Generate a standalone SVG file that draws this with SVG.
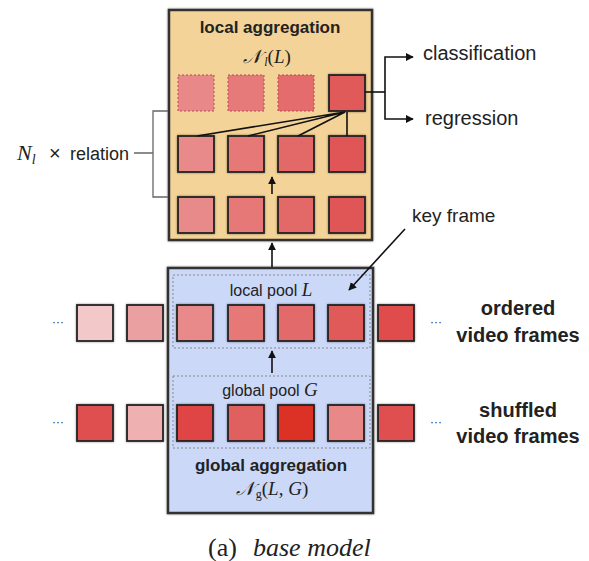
<svg xmlns="http://www.w3.org/2000/svg" width="589" height="561" viewBox="0 0 589 561">
<style>
.sq{stroke:#222;stroke-width:1.8;filter:url(#sh)}
.dsq{stroke:#b84a4a;stroke-width:1;stroke-dasharray:2 2}
.box{stroke:#333;stroke-width:2.5;filter:url(#sh)}
.pool{fill:none;stroke:#888;stroke-width:1;stroke-dasharray:2 2}
.sans{font-family:"Liberation Sans",Arial,sans-serif;fill:#222}
.bold{font-weight:bold}
.math{font-family:"Liberation Serif","DejaVu Serif",serif;font-style:italic;fill:#222}
.ln{stroke:#111;stroke-width:1.6;fill:none}
.dots{font-family:"Liberation Sans",sans-serif;font-size:12px;fill:#333}
</style>
<defs>
<filter id="sh" x="-10%" y="-10%" width="120%" height="120%"><feDropShadow dx="0" dy="0" stdDeviation="1" flood-color="#000" flood-opacity="0.45"/></filter>
<marker id="ah" viewBox="0 0 10 10" refX="9" refY="5" markerWidth="5" markerHeight="5" orient="auto-start-reverse"><path d="M0,0 L10,5 L0,10 z" fill="#111"/></marker>
</defs>
<rect width="589" height="561" fill="#fff"/>

<g id="local-aggregation">
<rect class="box" x="169" y="10" width="203" height="230" fill="#f3d398"/>
<text class="sans bold" x="270" y="33" font-size="17" text-anchor="middle">local aggregation</text>
<text class="math" x="267" y="63" font-size="19" text-anchor="middle">𝒩<tspan font-size="12" dx="3" dy="3">l</tspan><tspan dy="-3" font-style="normal">(</tspan>L<tspan font-style="normal">)</tspan></text>
<rect class="dsq" x="178" y="75" width="36" height="36" fill="#e88888"/>
<rect class="dsq" x="228" y="75" width="36" height="36" fill="#e67a7a"/>
<rect class="dsq" x="278" y="75" width="36" height="36" fill="#e46c6c"/>
<rect class="sq" x="329" y="75" width="36" height="36" fill="#e05a5a"/>
<rect class="sq" x="178" y="136" width="36" height="36" fill="#e88a8a"/>
<rect class="sq" x="228" y="136" width="36" height="36" fill="#e67878"/>
<rect class="sq" x="278" y="136" width="36" height="36" fill="#e36868"/>
<rect class="sq" x="329" y="136" width="36" height="36" fill="#e05656"/>
<rect class="sq" x="178" y="197" width="36" height="36" fill="#e88a8a"/>
<rect class="sq" x="228" y="197" width="36" height="36" fill="#e67878"/>
<rect class="sq" x="278" y="197" width="36" height="36" fill="#e36868"/>
<rect class="sq" x="329" y="197" width="36" height="36" fill="#e05656"/>
</g>

<g id="global-aggregation">
<rect class="box" x="168" y="268" width="205" height="245" fill="#cbd8f8"/>
<rect class="pool" x="173" y="275" width="197" height="73"/>
<rect class="pool" x="173" y="376" width="197" height="72"/>
<text class="sans" x="271" y="296" font-size="16" text-anchor="middle">local pool <tspan class="math" font-size="19">L</tspan></text>
<text class="sans" x="270" y="396" font-size="16" text-anchor="middle">global pool <tspan class="math" font-size="19">G</tspan></text>
<text class="sans bold" x="271" y="471" font-size="17" text-anchor="middle">global aggregation</text>
<text class="math" x="272" y="495" font-size="19" text-anchor="middle">𝒩<tspan font-size="12" dx="2" dy="3" font-style="normal">g</tspan><tspan dy="-3" font-style="normal">(</tspan>L<tspan font-style="normal">, </tspan>G<tspan font-style="normal">)</tspan></text>
</g>

<g id="ordered-frames">
<rect class="sq" x="77" y="305" width="36" height="36" fill="#f2c8c8"/>
<rect class="sq" x="127" y="305" width="36" height="36" fill="#eaa0a0"/>
<rect class="sq" x="177" y="305" width="36" height="36" fill="#e88a8a"/>
<rect class="sq" x="228" y="305" width="36" height="36" fill="#e67878"/>
<rect class="sq" x="278" y="305" width="36" height="36" fill="#e36a6a"/>
<rect class="sq" x="328" y="305" width="36" height="36" fill="#e05a5a"/>
<rect class="sq" x="378" y="305" width="36" height="36" fill="#e04c4c"/>
<text class="dots" x="52" y="326">···</text>
<text class="dots" x="430" y="326">···</text>
</g>

<g id="shuffled-frames">
<rect class="sq" x="77" y="405" width="36" height="36" fill="#e05050"/>
<rect class="sq" x="127" y="405" width="36" height="36" fill="#eeb0b0"/>
<rect class="sq" x="177" y="405" width="36" height="36" fill="#e04444"/>
<rect class="sq" x="228" y="405" width="36" height="36" fill="#e06060"/>
<rect class="sq" x="278" y="405" width="36" height="36" fill="#dc3228"/>
<rect class="sq" x="328" y="405" width="36" height="36" fill="#e88888"/>
<rect class="sq" x="378" y="405" width="36" height="36" fill="#e05050"/>
<text class="dots" x="52" y="426">···</text>
<text class="dots" x="430" y="426">···</text>
</g>

<g id="labels">
<text class="sans" x="423" y="60" font-size="20">classification</text>
<text class="sans" x="425" y="125" font-size="20">regression</text>
<text class="sans" x="412" y="222" font-size="19">key frame</text>
<text class="sans bold" x="518" y="315" font-size="20" text-anchor="middle">ordered</text>
<text class="sans bold" x="518" y="342" font-size="20" text-anchor="middle">video frames</text>
<text class="sans bold" x="518" y="417" font-size="20" text-anchor="middle">shuffled</text>
<text class="sans bold" x="518" y="443" font-size="20" text-anchor="middle">video frames</text>
<text class="math" x="17" y="160" font-size="22">N<tspan font-size="14" dy="4">l</tspan></text>
<text class="sans" x="49" y="160" font-size="20">×</text>
<text class="sans" x="70" y="160" font-size="18">relation</text>
<text x="208" y="556" font-family="Liberation Serif,serif" font-size="26" fill="#222">(a)<tspan x="253" font-style="italic">base model</tspan></text>
</g>

<g id="connectors">
<path class="ln" d="M345,112 L197,136 M345,112 L248,136 M345,112 L298,136 M347,112 V136"/>
<line class="ln" x1="272" y1="194" x2="272" y2="177" marker-end="url(#ah)"/>
<line class="ln" x1="272" y1="267" x2="272" y2="243" marker-end="url(#ah)"/>
<line class="ln" x1="272" y1="373" x2="272" y2="351" marker-end="url(#ah)"/>
<path class="ln" d="M365,92 H385"/>
<path class="ln" d="M413,57 H385 V119 H413" marker-start="url(#ah)" marker-end="url(#ah)"/>
<line class="ln" x1="405" y1="229" x2="349" y2="290" marker-end="url(#ah)"/>
<path d="M168,111 H153 V197 H168 M153,153 H134" fill="none" stroke="#666" stroke-width="1.3"/>
</g>
</svg>
